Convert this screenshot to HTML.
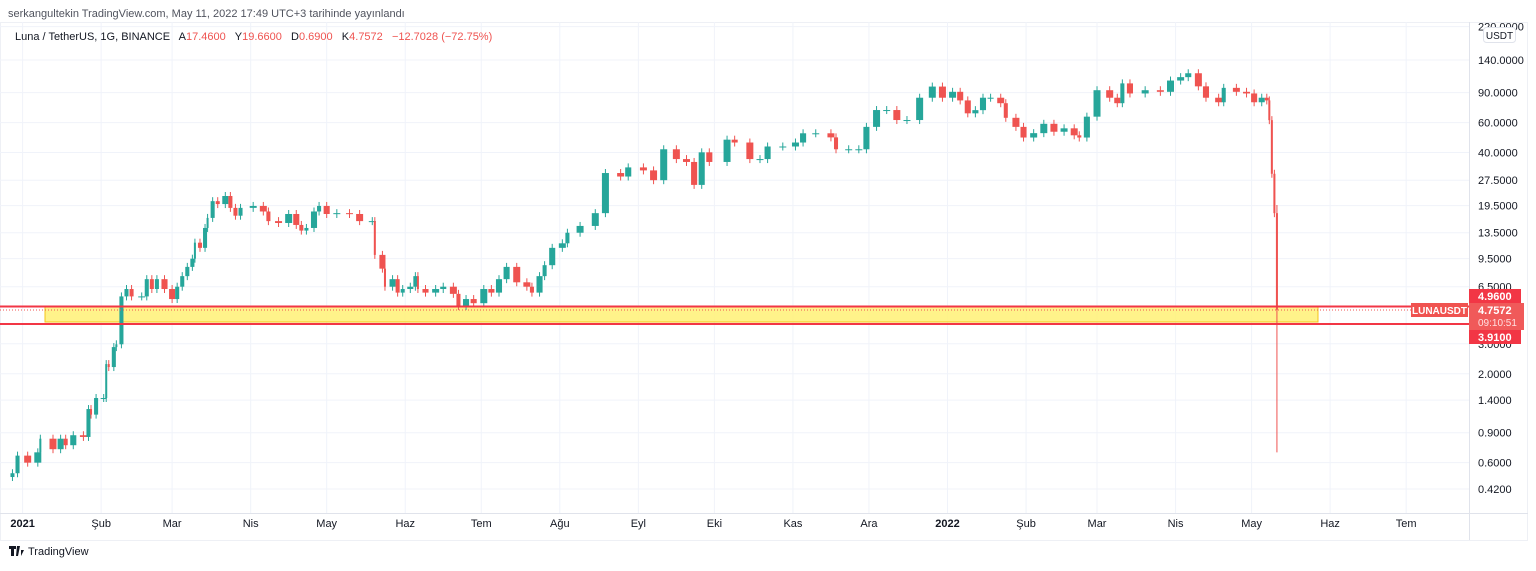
<!DOCTYPE html>
<html><head><meta charset="utf-8"><style>
body{margin:0;width:1536px;height:566px;background:#fff;overflow:hidden;font-family:"Liberation Sans",sans-serif}
svg text{font-family:"Liberation Sans",sans-serif}
</style></head><body>
<svg width="1536" height="566" id="chart">
<text x="8" y="17" font-size="11" fill="#50535e">serkangultekin TradingView.com, May 11, 2022 17:49 UTC+3 tarihinde yayınlandı</text>
<rect x="0.5" y="22.5" width="1527" height="518" fill="none" stroke="#eef0f5"/>
<g id="grid"></g>
<rect x="45" y="307" width="1273" height="15" fill="#fff176" fill-opacity="0.85" stroke="#f5c518"/>
<g id="candles"></g>
<line x1="0" x2="1469" y1="306.5" y2="306.5" stroke="#f23645" stroke-width="2"/>
<line x1="0" x2="1469" y1="324" y2="324" stroke="#f23645" stroke-width="2"/>
<line x1="0" x2="1469" y1="310" y2="310" stroke="#ef5350" stroke-dasharray="1,2"/>
<line x1="1469.5" x2="1469.5" y1="22" y2="540" stroke="#e0e3eb"/>
<line x1="0" x2="1528" y1="513.5" y2="513.5" stroke="#e0e3eb"/>
<g id="axes"></g>
<text x="15" y="40" font-size="11" xml:space="preserve"><tspan fill="#131722">Luna / TetherUS, 1G, BINANCE   A</tspan><tspan fill="#ef5350">17.4600</tspan><tspan fill="#131722">   Y</tspan><tspan fill="#ef5350">19.6600</tspan><tspan fill="#131722">   D</tspan><tspan fill="#ef5350">0.6900</tspan><tspan fill="#131722">   K</tspan><tspan fill="#ef5350">4.7572   −12.7028 (−72.75%)</tspan></text>
<rect x="1483.5" y="27.5" width="32" height="15" rx="3" fill="#fff" stroke="#e0e3eb"/>
<text x="1499.5" y="39" font-size="10" fill="#131722" text-anchor="middle">USDT</text>
<rect x="1411" y="303" width="57" height="14" fill="#f05350"/>
<text x="1439.5" y="314" font-size="10" font-weight="bold" fill="#fff" text-anchor="middle">LUNAUSDT</text>
<rect x="1469" y="289" width="52" height="14" fill="#f23645"/>
<text x="1478" y="300" font-size="11" fill="#fff" font-weight="bold">4.9600</text>
<rect x="1469" y="303" width="55" height="27" fill="#f05a5a"/>
<text x="1478" y="314" font-size="11" fill="#fff" font-weight="bold">4.7572</text>
<text x="1478" y="326" font-size="10" fill="#ffe0e0">09:10:51</text>
<rect x="1469" y="330" width="52" height="14" fill="#f23645"/>
<text x="1478" y="341" font-size="11" fill="#fff" font-weight="bold">3.9100</text>
<g>
<path d="M9 546h7v3h-2v7h-3v-7H9z M17 546h3l-2 10h-2z M21 550l3 0-3 6z" fill="#131722"/>
<text x="28" y="555" font-size="11" fill="#131722">TradingView</text>
</g>
</svg>
<script>
const days=[1,3,7,11,12,17,20,22,25,29,31,32,34,37,38,39,41,42,44,46,48,52,54,56,58,61,64,66,68,70,72,73,75,77,78,80,82,85,87,89,91,96,100,102,106,110,113,115,117,120,122,125,129,134,138,143,144,147,148,151,153,155,158,160,161,164,168,171,175,177,180,183,187,190,193,196,200,204,206,209,211,214,218,220,225,231,235,241,244,250,254,258,263,267,270,273,276,283,286,292,296,299,305,310,313,318,324,326,331,335,338,342,346,350,354,359,364,368,372,375,378,381,384,387,391,393,397,400,404,408,412,416,420,422,425,429,434,437,439,442,448,454,458,462,465,469,472,477,479,484,488,491,494,496,497,498,499,500];
const closes=[0.52,0.66,0.60,0.69,0.83,0.72,0.83,0.76,0.87,0.85,1.24,1.15,1.44,1.44,2.28,2.19,2.87,2.98,5.7,6.3,5.7,5.7,7.2,6.3,7.2,6.3,5.5,6.5,7.5,8.5,9.5,11.8,11.0,14.4,16.5,20.7,19.9,22.2,18.9,17.0,18.9,19.4,18.0,15.8,15.4,17.4,15.0,13.9,14.4,18.0,19.4,17.4,17.6,17.4,15.8,15.8,10.0,8.3,6.5,7.2,6.0,6.3,6.5,7.5,6.3,6.0,6.3,6.5,5.9,5.0,5.5,5.2,6.3,6.0,7.2,8.5,6.9,6.5,6.0,7.5,8.7,11.0,11.7,13.5,14.8,17.6,30.3,28.9,32.7,31.4,27.5,41.8,36.6,35.2,25.8,40.1,35.2,47.6,45.8,36.6,36.6,43.4,43.4,45.8,51.9,51.9,49.1,41.8,41.8,41.8,56.6,71.1,71.1,62.1,62.1,84,97.7,84,91,81,68,71,84,84,78,64,56.6,49,52,59,53,55.5,50.5,49,65,93,84,78,102,89,93,91,106,111,117,98,84,79,96,91,89,79,84,81,62,30,17.6,4.7572];
const lastHigh=19.66, lastLow=0.69;
const priceTicks=[220,140,90,60,40,27.5,19.5,13.5,9.5,6.5,3.0,2.0,1.4,0.9,0.6,0.42];
const timeLabels=["2021","Şub","Mar","Nis","May","Haz","Tem","Ağu","Eyl","Eki","Kas","Ara","2022","Şub","Mar","Nis","May","Haz","Tem"];
const timeDays=[5,36,64,95,125,156,186,217,248,278,309,339,370,401,429,460,490,521,551];
const NS="http://www.w3.org/2000/svg";
function yScale(p){return 60+Math.log(140/p)*73.85;}
function xScale(d){return 22.6+(d-5)*2.534;}
function mk(tag,attrs,parent){const e=document.createElementNS(NS,tag);for(const k in attrs)e.setAttribute(k,attrs[k]);parent.appendChild(e);return e;}
const grid=document.getElementById('grid'),axes=document.getElementById('axes'),cg=document.getElementById('candles');
priceTicks.forEach(p=>{const y=yScale(p);
 if(y>22){const l=mk('line',{x1:0,x2:1469,y1:y,y2:y,stroke:'#f0f3fa'},grid);
 
 }
 const t=mk('text',{x:1478,y:y+4,'font-size':11,fill:'#131722'},axes);t.textContent=p.toFixed(4);
 
 
});
timeLabels.forEach((s,i)=>{const x=xScale(timeDays[i]);
 const l=mk('line',{x1:x,x2:x,y1:22,y2:513,stroke:'#f0f3fa'},grid);
 
 
 const bold=(s==='2021'||s==='2022');
 const t=mk('text',{x:x,y:527,'font-size':11,fill:'#131722','text-anchor':'middle','font-weight':bold?'bold':'normal'},axes);t.textContent=s;
 
 
});
for(let i=0;i<closes.length;i++){
 const o=i?closes[i-1]:closes[0]*0.95,c=closes[i];
 const x=xScale(days[i]);
 const gap=i?(days[i]-days[i-1])*2.534:5;
 const w=Math.max(1.5,Math.min(7,gap*0.8));
 const xc=i?x-gap/2+gap/2:x;
 const up=c>=o,col=up?'#26a69a':'#ef5350';
 let yo=yScale(o),yc=yScale(c),top=Math.min(yo,yc),bot=Math.max(yo,yc);
 let wt=top-4,wb=bot+4;
 if(i===closes.length-1){wt=yScale(lastHigh);wb=yScale(lastLow);}
 const g=mk('g',{},cg);
 
 
 mk('line',{x1:xc,x2:xc,y1:wt,y2:wb,stroke:col,'stroke-width':1},g);
 mk('rect',{x:xc-w/2,y:top,width:w,height:Math.max(1,bot-top),fill:col},g);
}
</script>
</body></html>
